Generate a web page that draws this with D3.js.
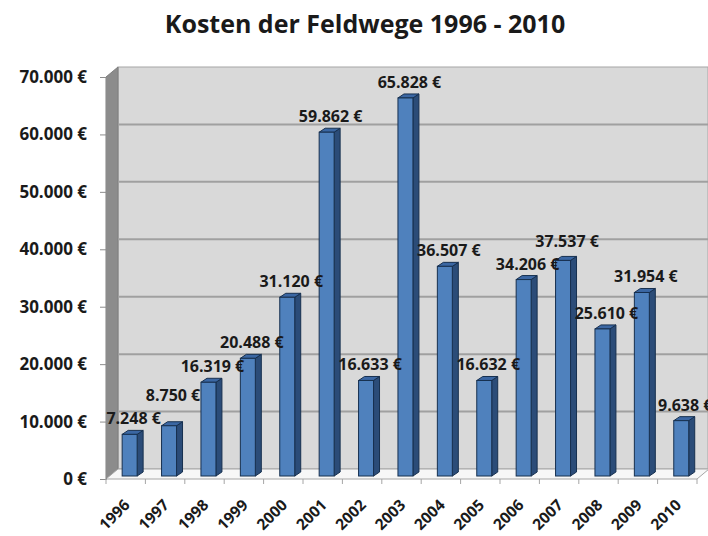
<!DOCTYPE html>
<html>
<head>
<meta charset="utf-8">
<script src="https://cdn.jsdelivr.net/npm/d3@7"></script>
<style>
body { margin: 0; background: #fff; }
text { font-family: "Open Sans", sans-serif; font-weight: 700; fill: #1a1a1a; }
</style>
</head>
<body>
<div id="chart-area"></div>
<script>
const years = ["1996", "1997", "1998", "1999", "2000", "2001", "2002", "2003", "2004", "2005", "2006", "2007", "2008", "2009", "2010"];
const costs = [7248, 8750, 16319, 20488, 31120, 59862, 16633, 65828, 36507, 16632, 34206, 37537, 25610, 31954, 9638];
const yTicks = [0, 10000, 20000, 30000, 40000, 50000, 60000, 70000];

const SVG_WIDTH = 708;
const SVG_HEIGHT = 536;
// wall depth (back wall offset) and bar depth
const DX = 12, DY = 10;
const BDX = 6, BDY = 4;

const de = d3.formatLocale({ decimal: ",", thousands: ".", grouping: [3], currency: ["", " €"] });
const euro = de.format("$,.0f");

const svg = d3.select("#chart-area").append("svg")
    .attr("width", SVG_WIDTH).attr("height", SVG_HEIGHT);

const x = d3.scaleBand().domain(years).range([106, 697]).padding(0);
const y = d3.scaleLinear().domain([0, 70000]).range([479, 77]);
const bw = x.bandwidth();

// title
svg.append("text")
    .attr("x", 365).attr("y", 33)
    .attr("text-anchor", "middle")
    .attr("font-size", "25px")
    .text("Kosten der Feldwege 1996 - 2010");

// back wall
svg.append("rect")
    .attr("x", 106 + DX).attr("y", y(70000) - DY)
    .attr("width", SVG_WIDTH - 106 - DX).attr("height", y(0) - y(70000))
    .attr("fill", "#d9d9d9").attr("stroke", "#a6a6a6");

// left wall
svg.append("path")
    .attr("d", `M106,${y(70000)}L${106 + DX},${y(70000) - DY}L${106 + DX},${y(0) - DY}L106,${y(0)}Z`)
    .attr("fill", "#8c8c8c").attr("stroke", "#7f7f7f");

// floor
svg.append("path")
    .attr("d", `M106,${y(0)}L${106 + DX},${y(0) - DY}L${697 + DX},${y(0) - DY}L697,${y(0)}Z`)
    .attr("fill", "#f7f7f7").attr("stroke", "#a6a6a6");

// gridlines on back wall
svg.append("g").selectAll("line").data(yTicks.slice(1, -1)).enter().append("line")
    .attr("x1", 106 + DX).attr("x2", SVG_WIDTH)
    .attr("y1", d => y(d) - DY).attr("y2", d => y(d) - DY)
    .attr("stroke", "#a0a0a0").attr("stroke-width", 2);

// y axis
const yAxis = d3.axisLeft(y).tickValues(yTicks).tickFormat(euro).tickSize(6).tickPadding(13);
const yg = svg.append("g").attr("transform", "translate(106,0)").call(yAxis);
yg.select(".domain").attr("stroke", "#8c8c8c");
yg.selectAll(".tick line").attr("stroke", "#8c8c8c");
yg.selectAll("text").attr("font-size", "17px").attr("font-family", "Open Sans").attr("font-weight", 700).attr("fill", "#1a1a1a");

// x axis ticks at band edges
svg.append("g").selectAll("line").data(years.concat(["end"])).enter().append("line")
    .attr("x1", d => d === "end" ? 697 : x(d)).attr("x2", d => d === "end" ? 697 : x(d))
    .attr("y1", y(0)).attr("y2", y(0) + 5)
    .attr("stroke", "#a6a6a6");

svg.append("g").selectAll("text").data(years).enter().append("text")
    .attr("transform", d => `translate(${x(d) + bw / 2 + 5},${y(0) + 27}) rotate(-45)`)
    .attr("text-anchor", "end")
    .attr("font-size", "15.5px")
    .text(d => d);

// bars
const data = years.map((yr, i) => ({ year: yr, value: costs[i] }));
const bars = svg.append("g").selectAll("g").data(data).enter().append("g");
const bx = d => x(d.year) + bw * 0.41;
const bwid = bw * 0.38;
const base = y(0) - 3;
const barTop = d => y(d.value) - 3;

bars.append("path")
    .attr("d", d => `M${bx(d) + bwid},${barTop(d)}L${bx(d) + bwid + BDX},${barTop(d) - BDY}L${bx(d) + bwid + BDX},${base - BDY}L${bx(d) + bwid},${base}Z`)
    .attr("fill", "#2b4c78").attr("stroke", "#17304f").attr("stroke-width", 1);
bars.append("path")
    .attr("d", d => `M${bx(d)},${barTop(d)}L${bx(d) + BDX},${barTop(d) - BDY}L${bx(d) + bwid + BDX},${barTop(d) - BDY}L${bx(d) + bwid},${barTop(d)}Z`)
    .attr("fill", "#3b67a3").attr("stroke", "#17304f").attr("stroke-width", 1);
bars.append("rect")
    .attr("x", bx).attr("y", barTop)
    .attr("width", bwid).attr("height", d => base - barTop(d))
    .attr("fill", "#4f81bd").attr("stroke", "#17304f").attr("stroke-width", 1);

// value labels, bumped upward when they collide with the previous one
const labels = svg.append("g").selectAll("text").data(data).enter().append("text")
    .attr("x", d => bx(d) + bwid / 2 + 4)
    .attr("y", d => barTop(d) - 10)
    .attr("text-anchor", "middle")
    .attr("font-size", "16px")
    .text(d => euro(d.value));

let prev = null;
labels.each(function () {
    let b = this.getBBox();
    if (prev && b.x < prev.x + prev.width && b.y < prev.y + prev.height && b.y + b.height > prev.y) {
        const shift = (b.y + b.height) - prev.y + 1;
        d3.select(this).attr("y", +d3.select(this).attr("y") - shift);
        b = this.getBBox();
    }
    prev = b;
});
</script>
</body>
</html>
